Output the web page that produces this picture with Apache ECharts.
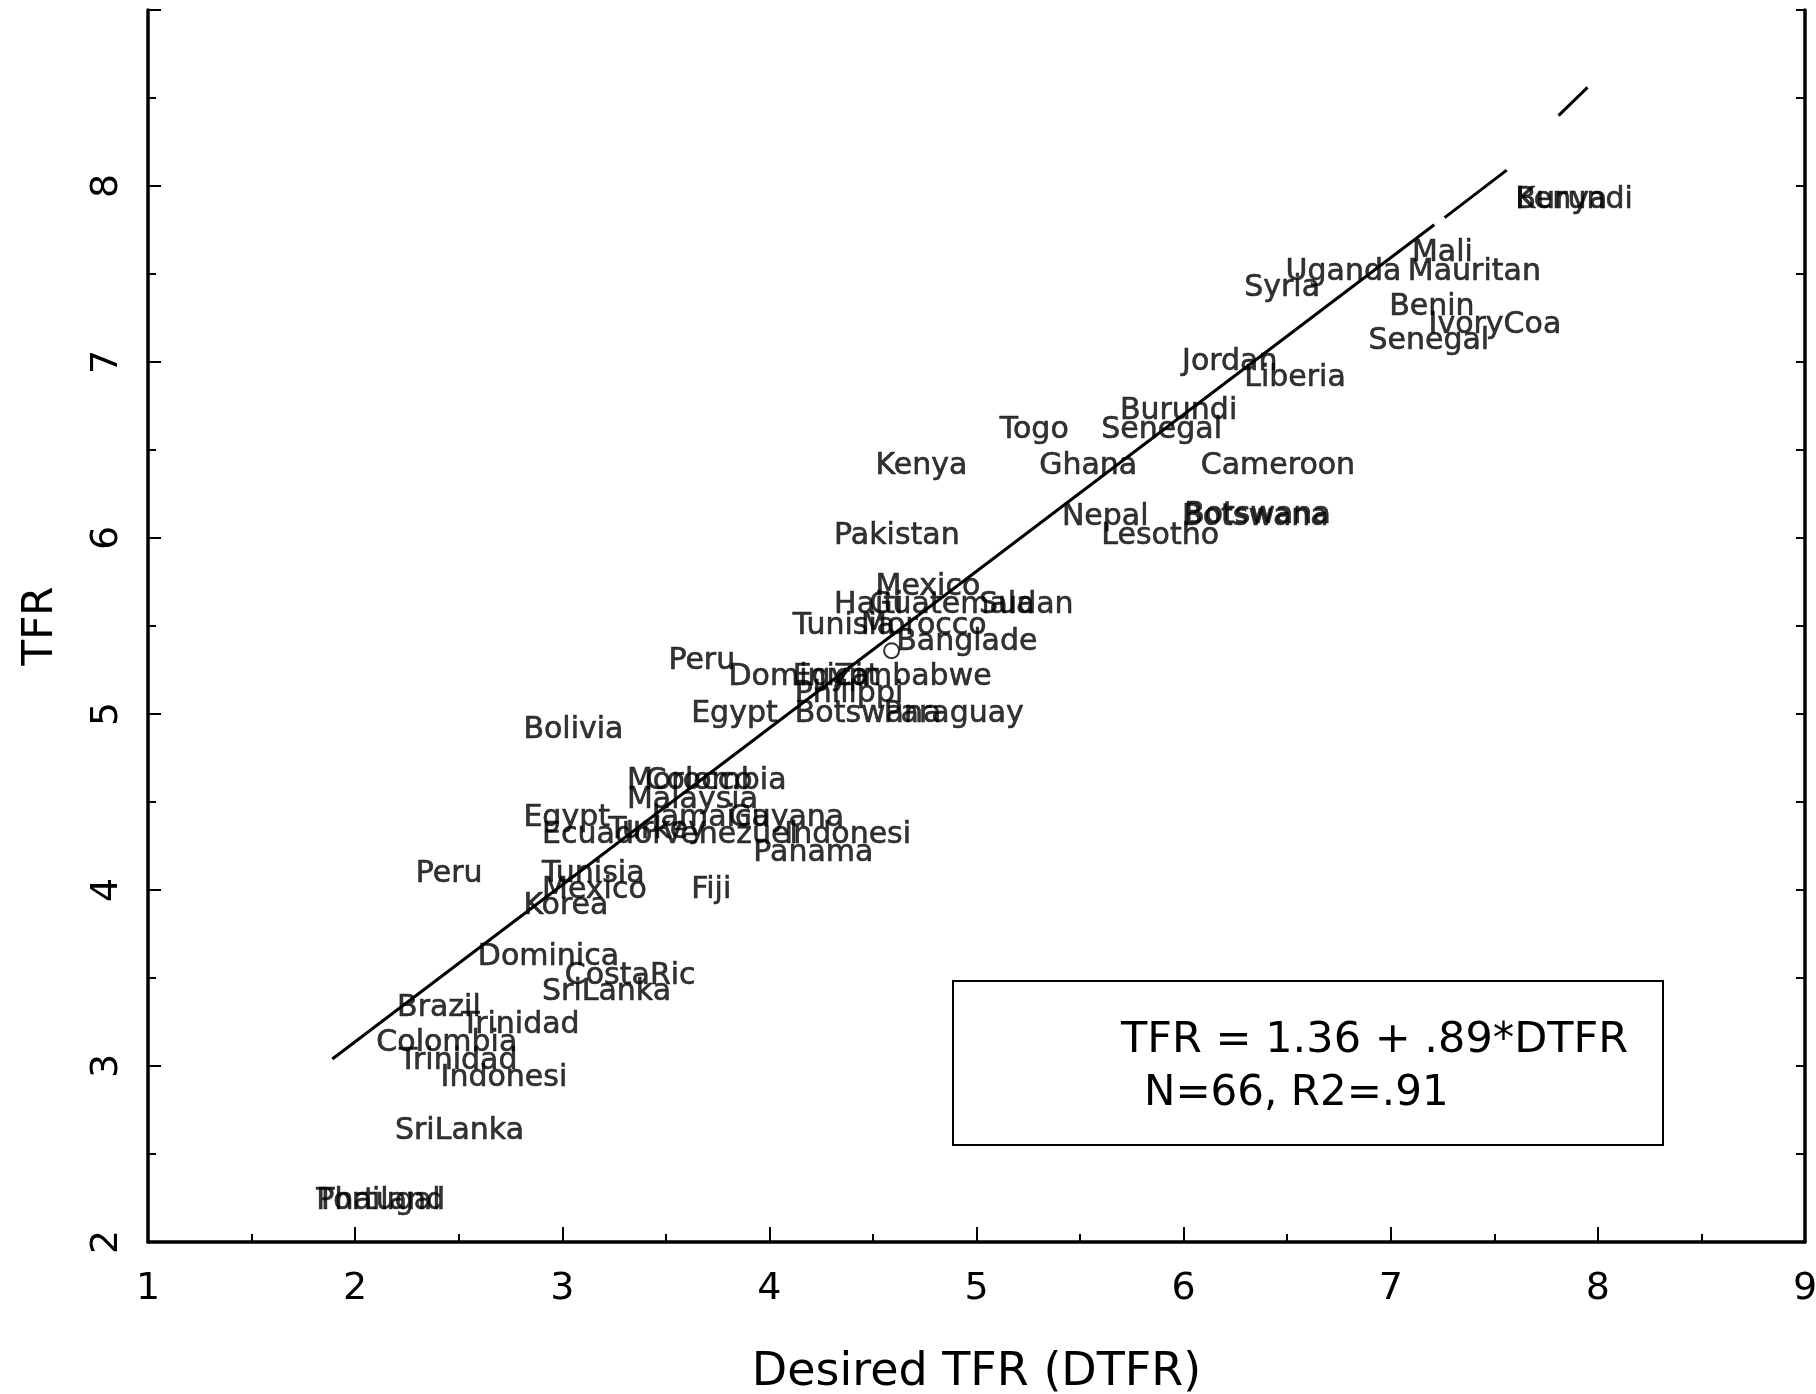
<!DOCTYPE html>
<html>
<head>
<meta charset="utf-8">
<script src="https://cdn.jsdelivr.net/npm/echarts@6/dist/echarts.min.js"></script>
<style>
html,body{margin:0;padding:0;background:#fff;}
#chart{width:1816px;height:1394px;}
</style>
</head>
<body>
<div id="chart"></div>
<script>
// ---- data ----
const countries = [
  'Burundi','Kenya','Mali','Uganda','Mauritan','Syria','Benin','IvoryCoa','Senegal','Jordan',
  'Liberia','Burundi','Togo','Senegal','Kenya','Ghana','Cameroon','Nepal','Botswana','Botswana',
  'Lesotho','Pakistan','Mexico','Haiti','Guatemala','Sudan','Tunisia','Morocco','Banglade','Peru',
  'Dominica','Egypt','Zimbabwe','Philippi','Egypt','Botswana','Paraguay','Bolivia','Morocco','Colombia',
  'Malaysia','Egypt','Jamaica','Guyana','Ecuador','Turkey','Venezuel','Indonesi','Panama','Peru',
  'Tunisia','Mexico','Korea','Fiji','Dominica','CostaRic','SriLanka','Brazil','Trinidad','Colombia',
  'Trinidad','Indonesi','SriLanka','Thailand','Portugal'
];
const dtfr = [
  7.60, 7.60, 7.10, 6.49, 7.08, 6.29, 6.99, 7.18, 6.89, 5.99,
  6.29, 5.69, 5.11, 5.60, 4.51, 5.30, 6.08, 5.41, 5.99, 6.00,
  5.60, 4.31, 4.51, 4.31, 4.48, 5.01, 4.11, 4.44, 4.61, 3.51,
  3.80, 4.11, 4.31, 4.12, 3.62, 4.12, 4.55, 2.81, 3.31, 3.40,
  3.31, 2.81, 3.43, 3.80, 2.90, 3.22, 3.48, 4.07, 3.92, 2.29,
  2.90, 2.90, 2.81, 3.62, 2.59, 3.01, 2.90, 2.20, 2.51, 2.10,
  2.21, 2.41, 2.19, 1.81, 1.81
];
const tfr = [
  7.92, 7.92, 7.62, 7.51, 7.51, 7.42, 7.31, 7.21, 7.12, 7.00,
  6.91, 6.72, 6.61, 6.61, 6.41, 6.41, 6.41, 6.12, 6.12, 6.13,
  6.01, 6.01, 5.72, 5.62, 5.62, 5.62, 5.50, 5.50, 5.41, 5.30,
  5.21, 5.21, 5.21, 5.11, 5.00, 5.00, 5.00, 4.91, 4.62, 4.62,
  4.51, 4.41, 4.41, 4.41, 4.31, 4.34, 4.31, 4.31, 4.21, 4.09,
  4.09, 4.00, 3.91, 4.00, 3.62, 3.51, 3.42, 3.33, 3.23, 3.13,
  3.03, 2.93, 2.63, 2.23, 2.23
];
const meanPoint = [4.59, 5.36];
// fitted line drawn in pieces (solid, then broken near the top)
const fitX = [1.89, 7.21, 7.26, 7.56, 7.81, 7.95];
const fitY = [3.04, 7.78, 7.82, 8.09, 8.40, 8.56];
const xRange = [1, 9];
const yRange = [2, 9];
const xTitle = 'Desired TFR (DTFR)';
const yTitle = 'TFR';
const eqLine1 = 'TFR = 1.36 + .89*DTFR';
const eqLine2 = 'N=66, R2=.91';

// ---- chart ----
const FONT = 'DejaVu Sans';
const chart = echarts.init(document.getElementById('chart'), null, {renderer: 'canvas'});

const pointData = countries.map((c, i) => ({value: [dtfr[i], tfr[i]], name: c}));

const lineSeries = [];
for (let i = 0; i < fitX.length; i += 2) {
  lineSeries.push({
    type: 'line',
    data: [[fitX[i], fitY[i]], [fitX[i + 1], fitY[i + 1]]],
    symbol: 'none',
    silent: true,
    lineStyle: {color: '#000', width: 3},
    z: 2
  });
}

const axisLineStyle = {color: '#000', width: 3.5};
const tickStyle = {color: '#000', width: 2};

chart.setOption({
  animation: false,
  backgroundColor: '#fff',
  grid: {left: 148, right: 11, top: 10, bottom: 152, containLabel: false, outerBoundsMode: 'none'},
  xAxis: {
    type: 'value', min: xRange[0], max: xRange[1], interval: 1,
    axisLine: {show: true, onZero: false, lineStyle: axisLineStyle},
    axisTick: {show: true, inside: true, length: 15, lineStyle: tickStyle},
    minorTick: {show: true, splitNumber: 2, length: 8, lineStyle: tickStyle},
    splitLine: {show: false},
    axisLabel: {fontSize: 38, margin: 28, color: '#000', fontFamily: FONT},
    name: xTitle, nameLocation: 'middle', nameGap: 108,
    nameTextStyle: {fontSize: 46, color: '#000', fontFamily: FONT}
  },
  yAxis: [
    {
      type: 'value', min: yRange[0], max: yRange[1], interval: 1, position: 'left',
      axisLine: {show: true, onZero: false, lineStyle: axisLineStyle},
      axisTick: {show: true, inside: true, length: 13, lineStyle: tickStyle},
      minorTick: {show: true, splitNumber: 2, length: 8, lineStyle: tickStyle},
      splitLine: {show: false},
      axisLabel: {
        fontSize: 38, margin: 22, rotate: 90, color: '#000', fontFamily: FONT,
        formatter: v => (v >= yRange[1] ? '' : String(v))
      },
      name: yTitle, nameLocation: 'middle', nameGap: 86, nameRotate: 90,
      nameTextStyle: {fontSize: 42, color: '#000', fontFamily: FONT}
    },
    {
      type: 'value', min: yRange[0], max: yRange[1], interval: 0.5, position: 'right',
      axisLine: {show: true, onZero: false, lineStyle: axisLineStyle},
      axisTick: {show: true, inside: true, length: 9, lineStyle: tickStyle},
      axisLabel: {show: false},
      splitLine: {show: false}
    }
  ],
  series: [
    ...lineSeries,
    {
      type: 'scatter',
      data: pointData,
      symbolSize: 1,
      itemStyle: {color: 'rgba(0,0,0,0)'},
      silent: true,
      z: 3,
      label: {
        show: true, position: 'right', distance: 0,
        formatter: p => p.name,
        fontSize: 30, color: '#000', fontFamily: FONT,
        textBorderColor: '#000', textBorderWidth: 0.6
      },
      labelLayout: {hideOverlap: false}
    },
    {
      type: 'scatter',
      data: [meanPoint],
      symbol: 'emptyCircle',
      symbolSize: 15,
      itemStyle: {color: '#000', borderColor: '#000', borderWidth: 2},
      silent: true,
      z: 4
    }
  ],
  graphic: [
    {
      type: 'rect', left: 952, top: 980, z: 10,
      shape: {width: 710, height: 164},
      style: {fill: 'rgba(0,0,0,0)', stroke: '#000', lineWidth: 2}
    },
    {
      type: 'text', left: 1121, top: 1019, z: 10,
      style: {text: eqLine1, font: '43px "DejaVu Sans"', fill: '#000'}
    },
    {
      type: 'text', left: 1144, top: 1073, z: 10,
      style: {text: eqLine2, font: '42px "DejaVu Sans"', fill: '#000'}
    }
  ]
});
</script>
</body>
</html>
